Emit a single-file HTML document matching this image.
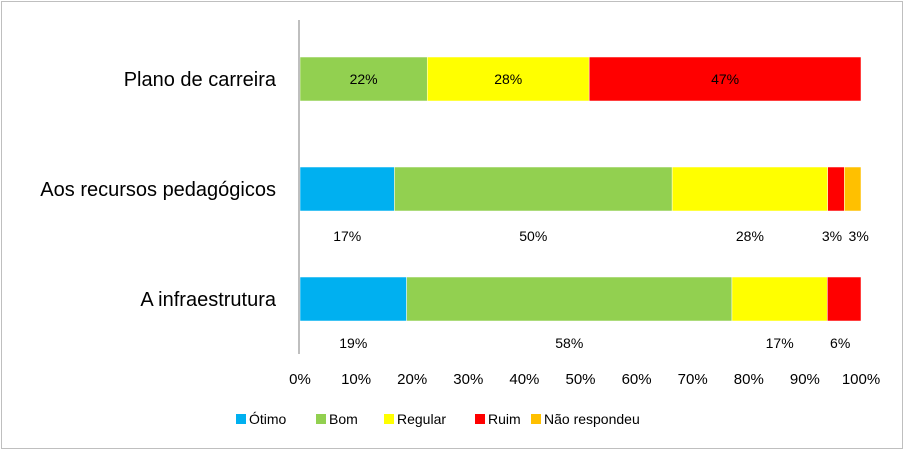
<!DOCTYPE html>
<html><head><meta charset="utf-8"><style>
body{margin:0;background:#fff;}
svg{display:block;font-family:"Liberation Sans",sans-serif;}
</style></head><body>
<svg width="905" height="456" viewBox="0 0 905 456" id="chart">
<rect x="1.5" y="1.5" width="901" height="447" fill="#fff" stroke="#bfbfbf"/>
<g id="bars"></g>
<line x1="299" y1="20" x2="299" y2="354" stroke="#bfbfbf" stroke-width="2"/>
<g id="ticks"></g>
<g id="legend"></g>
</svg>
<script>
const categories=["Plano de carreira","Aos recursos pedagógicos","A infraestrutura"];
const seriesNames=["Ótimo","Bom","Regular","Ruim","Não respondeu"];
const otimo=[0,17,19];
const bom=[22,50,58];
const regular=[28,28,17];
const ruim=[47,3,6];
const naoResp=[0,3,0];
const tickLabels=["0%","10%","20%","30%","40%","50%","60%","70%","80%","90%","100%"];
const colors=["#00b0f0","#92d050","#ffff00","#ff0000","#ffc000"];
const NS="http://www.w3.org/2000/svg";
const x0=300,x1=861;
const xs=v=>x0+(x1-x0)*v/100;
const barY=[57,167,277],barH=44;
const series=[otimo,bom,regular,ruim,naoResp];
const bars=document.getElementById('bars');
function mk(t,a,p){const e=document.createElementNS(NS,t);for(const k in a)e.setAttribute(k,a[k]);p.appendChild(e);return e;}
categories.forEach((c,i)=>{
 const lab=mk('text',{x:276,y:barY[i]+barH/2+7,'text-anchor':'end','font-size':20,fill:'#000'},bars);
 lab.textContent=c;
 
 
 let tot=0;series.forEach(s=>tot+=s[i]);
 let acc=0;
 series.forEach((s,j)=>{
  const v=s[i];if(!v)return;
  const a=xs(acc/tot*100),b=xs((acc+v)/tot*100);acc+=v;
  const r=mk('rect',{x:a,y:barY[i],width:b-a,height:barH,fill:colors[j],stroke:'#fff','stroke-width':0.5},bars);
  
  
  const ty=i===0?barY[i]+barH/2+5:barY[i]+barH+(i===1?30:27);
  const t=mk('text',{x:(a+b)/2+(i===0?0:(j===4?6:(j===3?-4:0))),y:ty,'text-anchor':'middle','font-size':14,fill:'#000'},bars);
  t.textContent=v+'%';
  
  
 });
});
const tk=document.getElementById('ticks');
tickLabels.forEach((l,i)=>{
 const t=mk('text',{x:xs(i*10),y:384,'text-anchor':'middle','font-size':15,fill:'#000'},tk);
 t.textContent=l;
 
 
});
const lg=document.getElementById('legend');
const lx=[236,316,384,475,531];
seriesNames.forEach((n,i)=>{
 const g=mk('g',{},lg);
 
 
 mk('rect',{x:lx[i],y:414,width:10,height:10,fill:colors[i]},g);
 const t=mk('text',{x:lx[i]+13,y:424,'font-size':14,fill:'#000'},g);
 t.textContent=n;
});
</script>
</body></html>
